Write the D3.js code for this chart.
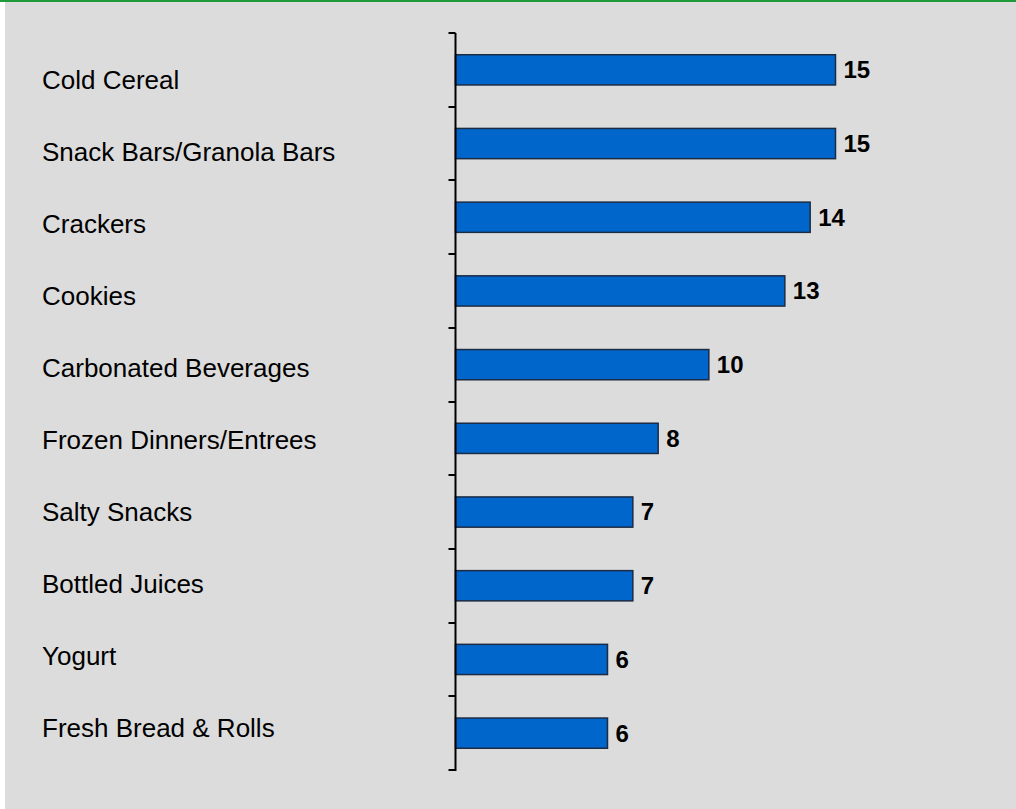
<!DOCTYPE html>
<html>
<head>
<meta charset="utf-8">
<script src="https://cdn.jsdelivr.net/npm/d3@7"></script>
<style>
  html, body { margin: 0; padding: 0; background: #ffffff; }
  svg { display: block; }
</style>
</head>
<body>
<svg id="chart" width="1016" height="809"></svg>
<script>
// Categories, top to bottom
const categories = [
  "Cold Cereal",
  "Snack Bars/Granola Bars",
  "Crackers",
  "Cookies",
  "Carbonated Beverages",
  "Frozen Dinners/Entrees",
  "Salty Snacks",
  "Bottled Juices",
  "Yogurt",
  "Fresh Bread & Rolls"
];
// Value per category
const values = [15, 15, 14, 13, 10, 8, 7, 7, 6, 6];

const svg = d3.select("#chart");
const W = 1016, H = 809;

// panel background with green rule on top
svg.append("rect").attr("x", 5).attr("y", 0).attr("width", W - 5).attr("height", H)
  .attr("fill", "#dcdcdc");
svg.append("line").attr("x1", 0).attr("x2", W).attr("y1", 1).attr("y2", 1)
  .attr("stroke", "#1f9a3a").attr("stroke-width", 2);

const x0 = 455.5;
const x = d3.scaleLinear().domain([0, 15]).range([x0, 835.5]);
const y = d3.scaleBand().domain(categories).range([33, 770]).paddingInner(0.59).paddingOuter(0.295);
// category label rows
const yLab = d3.scaleBand().domain(categories).range([44, 764]);

const data = categories.map((c, i) => ({ c, v: values[i] }));

// bars
svg.append("g").selectAll("rect").data(data).join("rect")
  .attr("x", x0)
  .attr("y", d => y(d.c))
  .attr("width", d => x(d.v) - x0)
  .attr("height", y.bandwidth())
  .attr("fill", "#0066cc")
  .attr("stroke", "#1b2b44")
  .attr("stroke-width", 1.5);

// value labels
svg.append("g").selectAll("text").data(data).join("text")
  .attr("x", d => x(d.v) + 8)
  .attr("y", d => y(d.c) + y.bandwidth() / 2)
  .attr("dy", "0.35em")
  .attr("font-family", "Liberation Sans, Arial, sans-serif")
  .attr("font-size", 24)
  .attr("font-weight", "bold")
  .attr("fill", "#000")
  .text(d => d.v);

// category labels
svg.append("g").selectAll("text").data(categories).join("text")
  .attr("x", 42)
  .attr("y", d => yLab(d) + yLab.bandwidth() / 2)
  .attr("dy", "0.35em")
  .attr("font-family", "Liberation Sans, Arial, sans-serif")
  .attr("font-size", 26)
  .attr("fill", "#000")
  .text(d => d);

// vertical axis with ticks at band boundaries
const bounds = d3.range(categories.length + 1).map(i => 33 + i * (770 - 33) / categories.length);
const axis = svg.append("g");
axis.append("line").attr("x1", x0).attr("x2", x0).attr("y1", 33).attr("y2", 771)
  .attr("stroke", "#000").attr("stroke-width", 2);
axis.selectAll("line.tick").data(bounds).join("line").attr("class", "tick")
  .attr("x1", x0 - 7).attr("x2", x0)
  .attr("y1", d => Math.round(d)).attr("y2", d => Math.round(d))
  .attr("stroke", "#000").attr("stroke-width", 2);
</script>
</body>
</html>
